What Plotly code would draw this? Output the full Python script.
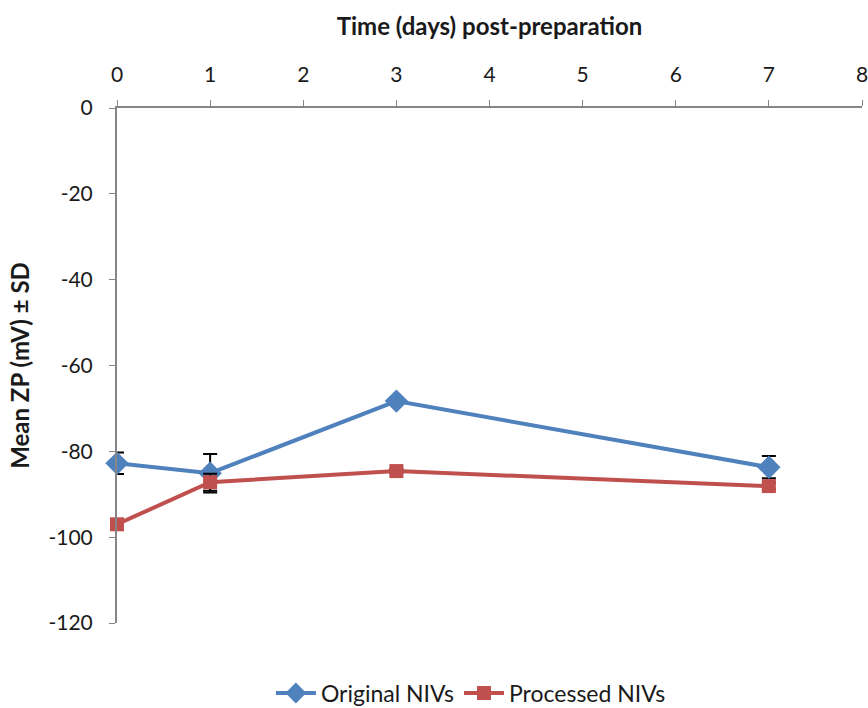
import plotly.graph_objects as go

# Zeta potential of NIVs over storage time
days = [0, 1, 3, 7]
original_zp = [-82.8, -85.1, -68.3, -83.7]
original_sd = [2.5, 4.5, 0.5, 2.6]
processed_zp = [-97.0, -87.2, -84.6, -88.1]
processed_sd = [0.5, 2.0, 0.5, 0.8]

x_ticks = [0, 1, 2, 3, 4, 5, 6, 7, 8]
y_ticks = [0, -20, -40, -60, -80, -100, -120]
y_tick_text = [str(v) for v in y_ticks]

FONT = "Lato"
BLUE = "#4F81BD"
RED = "#C0504D"

fig = go.Figure()

fig.add_trace(go.Scatter(
    x=days, y=original_zp, name="Original NIVs", mode="lines+markers",
    line=dict(color=BLUE, width=4), cliponaxis=False,
    marker=dict(symbol="diamond", size=18, color=BLUE),
    error_y=dict(type="data", array=original_sd, visible=True,
                 color="black", thickness=2, width=7),
))
fig.add_trace(go.Scatter(
    x=days, y=processed_zp, name="Processed NIVs", mode="lines+markers",
    line=dict(color=RED, width=4), cliponaxis=False,
    marker=dict(symbol="square", size=14, color=RED),
    error_y=dict(type="data", array=processed_sd, visible=True,
                 color="black", thickness=2, width=7),
))

fig.update_layout(
    width=868, height=708,
    margin=dict(l=117, r=6, t=108, b=85, autoexpand=False),
    paper_bgcolor="white", plot_bgcolor="white",
    font=dict(family=FONT, size=21, color="#1a1a1a"),
    showlegend=True,
    legend=dict(orientation="h", x=0.475, xanchor="center",
                y=-0.136, yanchor="middle",
                font=dict(size=23, family=FONT),
                itemwidth=40, traceorder="normal"),
    xaxis=dict(
        side="top", range=[0, 8], tickvals=x_ticks, automargin=False,
        ticklabeloverflow="allow", ticklabelstandoff=10,
        showline=True, linecolor="#868686", linewidth=2,
        ticks="outside", ticklen=6, tickwidth=1, tickcolor="#868686",
        showgrid=False, zeroline=False,
        title=dict(text="<b>Time (days) post-preparation</b>",
                   font=dict(size=24, family=FONT), standoff=18),
        tickfont=dict(size=21),
    ),
    yaxis=dict(
        range=[-120, 0], tickvals=y_ticks, ticktext=y_tick_text,
        automargin=False, ticklabelstandoff=12,
        showline=True, linecolor="#868686", linewidth=2,
        ticks="outside", ticklen=6, tickwidth=1, tickcolor="#868686",
        showgrid=False, zeroline=False,
        title=dict(text="<b>Mean ZP (mV) ± SD</b>",
                   font=dict(size=24, family=FONT), standoff=12),
        tickfont=dict(size=21),
    ),
)

fig.write_html("out.html")
